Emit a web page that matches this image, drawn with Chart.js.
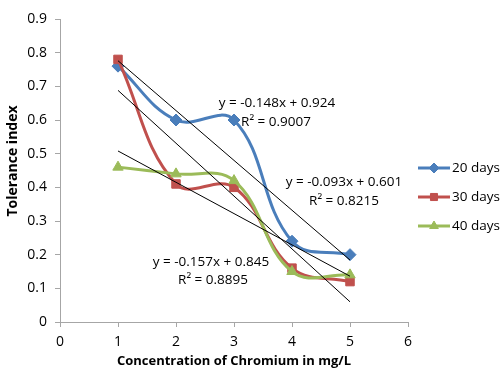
<!DOCTYPE html>
<html>
<head>
<meta charset="utf-8">
<script src="https://cdn.jsdelivr.net/npm/chart.js@4"></script>
<style>
  html, body { margin: 0; padding: 0; background: #fff; }
  #wrap { width: 501px; height: 373px; }
</style>
</head>
<body>
<div id="wrap"><canvas id="toleranceChart" width="501" height="373"></canvas></div>
<script>
// Data
const concentrations = [1, 2, 3, 4, 5];
const days20 = [0.76, 0.60, 0.60, 0.24, 0.20];
const days30 = [0.78, 0.41, 0.40, 0.16, 0.12];
const days40 = [0.46, 0.44, 0.42, 0.15, 0.14];

// Trendline end values at x = 1 and x = 5
const trendX = [1, 5];
const trend20 = [0.776, 0.184];
const trend30 = [0.688, 0.060];
const trend40 = [0.508, 0.136];

const seriesNames = ["20 days", "30 days", "40 days"];
const seriesColors = ["#4a7ebb", "#c0504d", "#9bbb59"];
const seriesMarkers = ["rectRot", "rect", "triangle"];

const equations = [
  ["y = -0.148x + 0.924", "R\u00b2 = 0.9007"],
  ["y = -0.093x + 0.601", "R\u00b2 = 0.8215"],
  ["y = -0.157x + 0.845", "R\u00b2 = 0.8895"]
];

const FONT = "'Open Sans', 'DejaVu Sans', sans-serif";

function points(xs, ys) {
  return xs.map((x, i) => ({ x: x, y: ys[i] }));
}

function seriesDataset(i, values) {
  return {
    label: seriesNames[i],
    data: points(concentrations, values),
    borderColor: seriesColors[i],
    backgroundColor: seriesColors[i],
    borderWidth: 3,
    tension: 0.4,
    pointStyle: seriesMarkers[i],
    pointRadius: 6,
    pointBorderWidth: 1,
    showLine: true,
    order: 3 - i
  };
}

function trendDataset(values) {
  return {
    label: "trend",
    data: points(trendX, values),
    borderColor: "#000",
    borderWidth: 1,
    pointRadius: 0,
    showLine: true,
    tension: 0,
    order: 0
  };
}

// Equation labels, y title and legend drawn on top of the chart
const extrasPlugin = {
  id: "extras",
  afterDraw(chart) {
    const ctx = chart.ctx;
    ctx.save();
    ctx.fillStyle = "#000";
    ctx.font = "13.5px " + FONT;
    ctx.textAlign = "center";
    ctx.textBaseline = "middle";
    const spots = [[277, 103, 276, 122], [344, 182, 344, 201], [211, 262, 213, 280]];
    equations.forEach((eq, i) => {
      ctx.fillText(eq[0], spots[i][0], spots[i][1]);
      ctx.fillText(eq[1], spots[i][2], spots[i][3]);
    });

    // y axis title
    ctx.save();
    ctx.translate(13, 161);
    ctx.rotate(-Math.PI / 2);
    ctx.font = "bold 14px " + FONT;
    ctx.fillText("Tolerance index", 0, 0);
    ctx.restore();

    // legend
    ctx.textAlign = "left";
    ctx.font = "13.5px " + FONT;
    const legendY = [168, 197, 226];
    seriesNames.forEach((name, i) => {
      const y = legendY[i];
      ctx.strokeStyle = seriesColors[i];
      ctx.fillStyle = seriesColors[i];
      ctx.lineWidth = 3;
      ctx.beginPath();
      ctx.moveTo(418, y);
      ctx.lineTo(450, y);
      ctx.stroke();
      ctx.lineWidth = 1;
      Chart.helpers.drawPoint(ctx, {
        pointStyle: seriesMarkers[i],
        radius: 5,
        rotation: 0,
        borderWidth: 1
      }, 434, y);
      ctx.fillStyle = "#000";
      ctx.fillText(name, 452, y);
    });
    ctx.restore();
  }
};

new Chart(document.getElementById("toleranceChart"), {
  type: "scatter",
  data: {
    datasets: [
      seriesDataset(0, days20),
      seriesDataset(1, days30),
      seriesDataset(2, days40),
      trendDataset(trend20),
      trendDataset(trend30),
      trendDataset(trend40)
    ]
  },
  options: {
    responsive: false,
    animation: false,
    layout: { padding: { left: 0, right: 93, top: 19, bottom: 0 } },
    plugins: {
      legend: { display: false },
      tooltip: { enabled: false }
    },
    scales: {
      x: {
        type: "linear",
        min: 0,
        max: 6,
        ticks: { stepSize: 1, color: "#000", font: { family: FONT, size: 14 }, padding: 7 },
        grid: { drawOnChartArea: false, color: "#a6a6a6", tickLength: 5 },
        border: { color: "#a6a6a6", width: 1 },
        title: {
          display: true,
          text: "Concentration of Chromium in mg/L",
          color: "#000",
          font: { family: FONT, size: 13, weight: "bold" },
          padding: { top: 11 }
        },
        afterFit(scale) { scale.height = 51; }
      },
      y: {
        min: 0,
        max: 0.9,
        ticks: {
          stepSize: 0.1,
          color: "#000",
          font: { family: FONT, size: 14 },
          padding: 8,
          callback: v => Number(v.toFixed(1)).toString()
        },
        grid: { drawOnChartArea: false, color: "#a6a6a6", tickLength: 5 },
        border: { color: "#a6a6a6", width: 1 },
        afterFit(scale) { scale.width = 60; }
      }
    }
  },
  plugins: [extrasPlugin]
});
</script>
</body>
</html>
